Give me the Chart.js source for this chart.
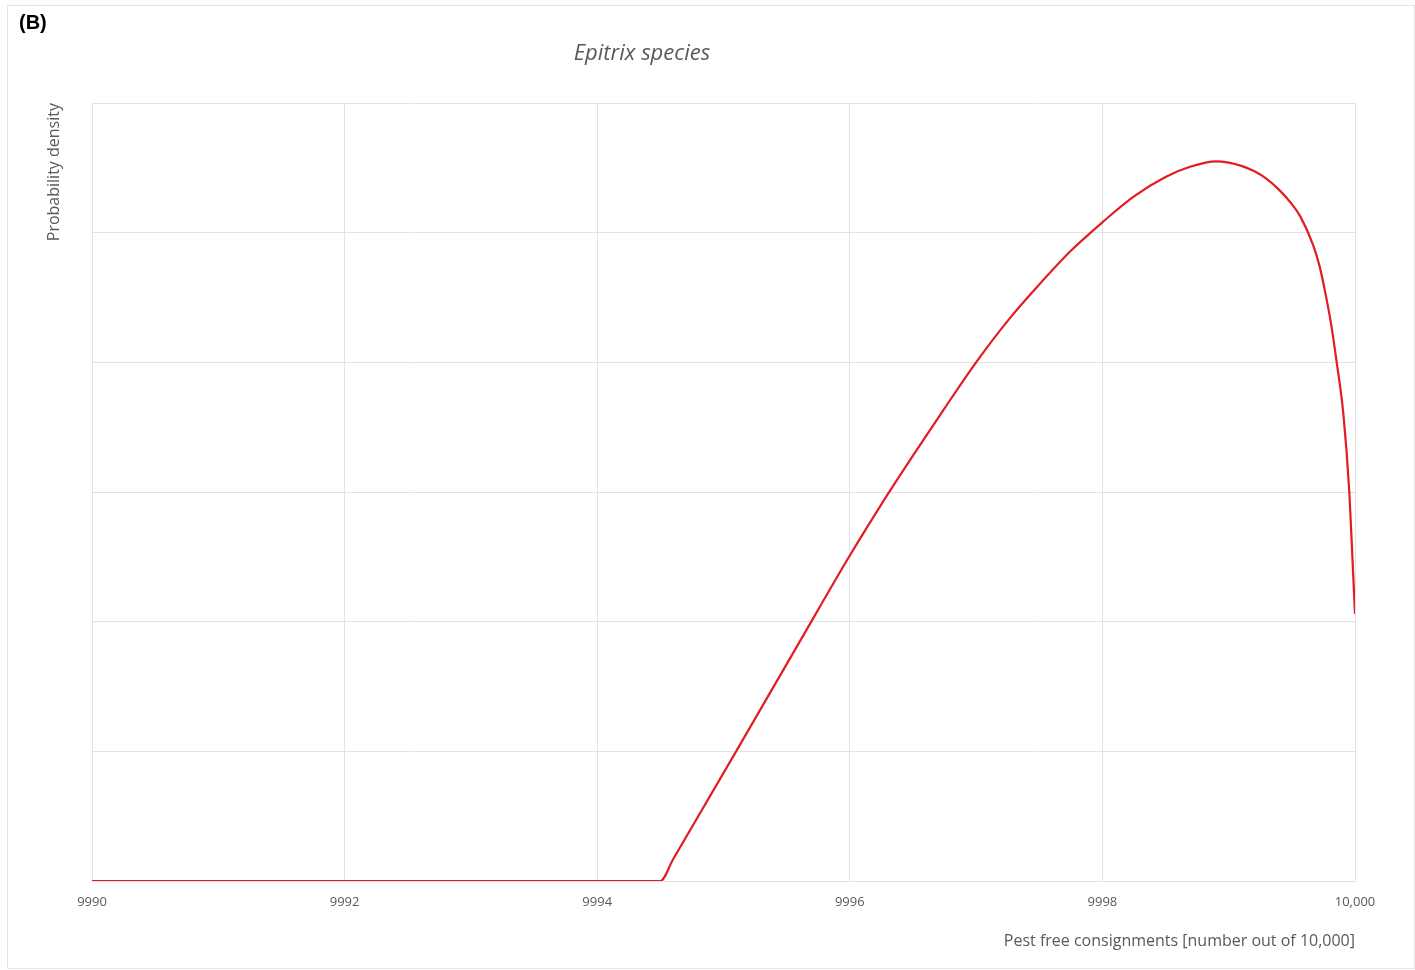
<!DOCTYPE html>
<html>
<head>
<meta charset="utf-8">
<script src="https://cdn.jsdelivr.net/npm/chart.js@4.4.1/dist/chart.umd.min.js"></script>
<style>
  body { margin: 0; background: #fff; }
  #frame { position: absolute; left: 7px; top: 5px; width: 1406px; height: 962px; border: 1px solid #e4e4e4; }
  #panel { position: absolute; left: 19px; top: 11px; font: bold 20px "Liberation Sans", Arial, sans-serif; color: #000; }
  #title { position: absolute; left: 0; width: 1284px; top: 36px; text-align: center; font: italic 22px "Open Sans", sans-serif; color: #595959; }
  #chart { position: absolute; left: 0; top: 0; }
</style>
</head>
<body>
<div id="frame"></div>
<canvas id="chart" width="1415" height="970"></canvas>
<div id="panel">(B)</div>
<div id="title">Epitrix species</div>
<script>
// pest free consignments (x) and probability density (y, arbitrary units)
var pestFree = [9990, 9994.5, 9994.6, 9995.1, 9995.6, 9996.0, 9996.25, 9996.5, 9996.75, 9997.0,
  9997.25, 9997.5, 9997.75, 9998.0, 9998.25, 9998.5, 9998.7, 9998.9, 9999.0, 9999.1, 9999.2,
  9999.3, 9999.4, 9999.5, 9999.57, 9999.67, 9999.72, 9999.76, 9999.81, 9999.855, 9999.908,
  9999.955, 9999.982, 10000];
var density = [0, 0, 0.166, 1.0, 1.84, 2.51, 2.905, 3.28, 3.645, 4.0,
  4.32, 4.60, 4.86, 5.08, 5.28, 5.43, 5.51, 5.55, 5.54, 5.515, 5.475,
  5.415, 5.33, 5.22, 5.12, 4.90, 4.74, 4.56, 4.30, 4.0, 3.60,
  3.0, 2.44, 2.06];
var xTickLabels = ['9990', '9992', '9994', '9996', '9998', '10,000'];

var points = [];
for (let i = 0; i < pestFree.length; i++) {
  points.push({ x: pestFree[i], y: density[i] });
}

var gridColor = '#e2e2e2';
var textColor = '#595959';

var ctx = document.getElementById('chart').getContext('2d');
var chart = new Chart(ctx, {
  type: 'line',
  data: {
    datasets: [{
      label: 'Epitrix species',
      data: points,
      borderColor: 'rgb(226, 28, 33)',
      borderWidth: 2.2,
      pointRadius: 0,
      fill: false,
      cubicInterpolationMode: 'monotone'
    }]
  },
  options: {
    responsive: false,
    animation: false,
    layout: { padding: { left: 36, right: 60, top: 103, bottom: 15.4 } },
    plugins: {
      legend: { display: false },
      tooltip: { enabled: false }
    },
    scales: {
      x: {
        type: 'linear',
        min: 9990,
        max: 10000,
        ticks: {
          stepSize: 2,
          padding: 13.2,
          color: textColor,
          font: { family: 'Open Sans', size: 13 },
          maxRotation: 0,
          callback: function (value, index) { return xTickLabels[index]; }
        },
        grid: { color: gridColor, drawTicks: false },
        border: { color: gridColor },
        title: {
          display: true,
          text: 'Pest free consignments [number out of 10,000]',
          align: 'end',
          color: textColor,
          font: { family: 'Open Sans', size: 16 },
          padding: { top: 8.4, bottom: 4 }
        }
      },
      y: {
        min: 0,
        max: 6,
        ticks: { stepSize: 1, display: false },
        grid: { color: gridColor, drawTicks: false },
        border: { color: gridColor },
        title: {
          display: true,
          text: 'Probability density',
          align: 'end',
          color: textColor,
          font: { family: 'Open Sans', size: 16 },
          padding: { top: 8.9, bottom: 27.9 }
        }
      }
    }
  }
});
</script>
</body>
</html>
